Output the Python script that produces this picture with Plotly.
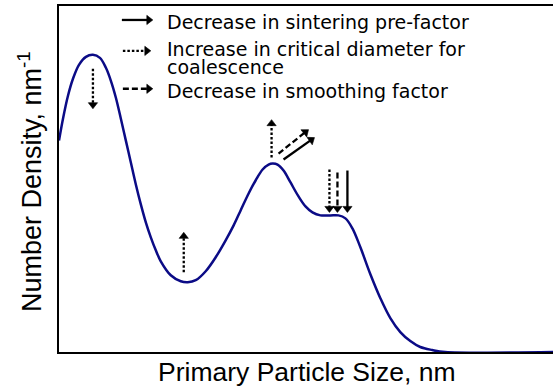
import math
import plotly.graph_objects as go

# ---- data (arbitrary units: x = primary particle size, y = number density) ----
size = [0, 4, 9, 14, 20, 27, 34, 41, 47, 52, 57, 62, 67, 72, 77, 82, 87, 92, 97, 102,
        112, 122, 129, 137, 147, 157, 167, 175, 182, 190, 197, 204, 210, 214, 219,
        225, 232, 240, 247, 254, 262, 272, 280, 287, 294, 302, 312, 322, 332, 342,
        352, 362, 374, 387, 495]
density = [212, 234, 257, 274, 288, 296, 298, 295, 285, 272, 255, 234, 212, 190, 168,
           148, 130, 115, 102, 91, 77, 71, 70, 72, 81, 95, 112, 127, 142, 159, 172,
           183, 188, 189, 188, 182, 170, 156, 146, 140, 137, 137, 137, 134, 124, 105,
           78, 54, 34, 20, 11, 5, 2, 0, 0]

# arrows: (x_tail, y_tail, x_head, y_head, style)
arrows = [
    (34, 284, 34, 244, "dot"),
    (125, 80, 125, 120, "dot"),
    (213, 195, 213, 233, "dot"),
    (220, 199, 250, 223, "dash"),
    (225, 193, 256, 215, "solid"),
    (271, 183, 271, 140, "dot"),
    (279, 180, 279, 140, "dash"),
    (289, 182, 289, 140, "solid"),
]
legend_arrows = [
    (63, 333, 94, 333, "solid"),
    (64, 302, 92, 302, "dot"),
    (64, 264, 94, 264, "dash"),
]
legend_texts = [
    (106, 330.5, "Decrease in sintering pre-factor"),
    (106, 303.5, "Increase in critical diameter for"),
    (106, 285.5, "coalescence"),
    (106, 262, "Decrease in smoothing factor"),
]

DASH = {"dot": "2.5px,2px", "dash": "6px,3px", "solid": "solid"}
HEAD_SIZE = 8           # marker size (px) of the triangular heads
R = HEAD_SIZE / 2

fig = go.Figure()
fig.add_trace(go.Scatter(x=size, y=density, mode="lines",
                         line=dict(color="#0b0b86", width=2.5, shape="spline", smoothing=1.0),
                         hoverinfo="skip", showlegend=False))

hx, hy, hang = [], [], []
for (x0, y0, x1, y1, st) in arrows + legend_arrows:
    dx, dy = x1 - x0, y1 - y0
    n = math.hypot(dx, dy)
    ux, uy = dx / n, dy / n
    cx, cy = x1 - ux * R, y1 - uy * R          # triangle centre (tip lies R ahead)
    fig.add_trace(go.Scatter(
        x=[x0, cx], y=[y0, cy], mode="lines",
        line=dict(color="black", width=2.3, dash=DASH[st]),
        showlegend=False, hoverinfo="skip"))
    hx.append(cx)
    hy.append(cy)
    hang.append(math.degrees(math.atan2(ux, uy)))

fig.add_trace(go.Scatter(x=hx, y=hy, mode="markers",
                         marker=dict(symbol="triangle-up", size=HEAD_SIZE, angle=hang,
                                     color="black", line=dict(width=0.6, color="black")),
                         showlegend=False, hoverinfo="skip", cliponaxis=False))

for (x, y, t) in legend_texts:
    fig.add_annotation(x=x, y=y, xref="x", yref="y", text=t, showarrow=False,
                       xanchor="left", yanchor="middle",
                       font=dict(family="DejaVu Sans", size=19, color="black"))

L, T, B, W = 59, 6, 35, 494
H = 387 - T - B


def px_to_paper(px, py):
    return (px - L) / W, (387 - B - py) / H


yx, yy = px_to_paper(30, 182)
fig.add_annotation(x=yx, y=yy, xref="paper", yref="paper",
                   text="Number Density, nm<sup>-1</sup>",
                   textangle=-90, showarrow=False, xanchor="center", yanchor="middle",
                   font=dict(family="Liberation Sans", size=27, color="black"))
xx, xy = px_to_paper(306, 372)
fig.add_annotation(x=xx, y=xy, xref="paper", yref="paper", text="Primary Particle Size, nm",
                   showarrow=False, xanchor="center", yanchor="middle",
                   font=dict(family="Liberation Sans", size=26.5, color="black"))

fig.update_xaxes(range=[0, 495], showgrid=False, zeroline=False, showticklabels=False,
                 ticks="", showline=True, linecolor="black", linewidth=2, mirror=True,
                 layer="below traces")
fig.update_yaxes(range=[0, 347], showgrid=False, zeroline=False, showticklabels=False,
                 ticks="", showline=True, linecolor="black", linewidth=2, mirror=False,
                 layer="below traces")
fig.update_layout(width=553, height=387, margin=dict(l=L, r=0, t=T, b=B),
                  paper_bgcolor="white", plot_bgcolor="white")

fig.write_html("out.html")
